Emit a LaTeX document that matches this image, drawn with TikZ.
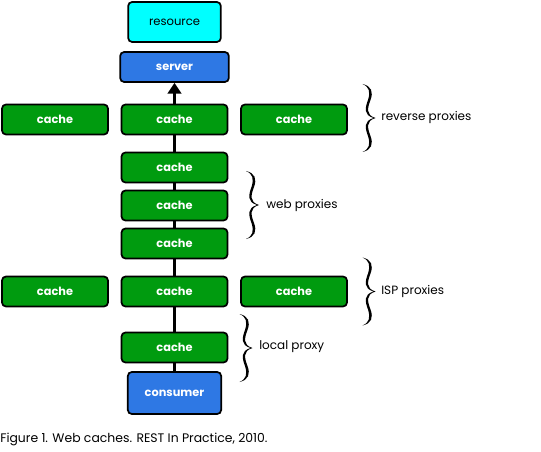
\documentclass[tikz,border=0pt]{standalone}
\usepackage{fontspec}
\setmainfont{Poppins}
\usetikzlibrary{arrows.meta}
\definecolor{cachegreen}{RGB}{0,155,15}
\definecolor{srvblue}{RGB}{46,120,228}
\definecolor{rescyan}{RGB}{0,255,255}
\tikzset{
  px/.style={x=0.75pt,y=-0.75pt},
  boxbase/.style={draw=black,line width=1.3pt,rounded corners=3pt,inner sep=0pt,font=\fontsize{8.5}{10}\selectfont\bfseries},
  cachebox/.style={boxbase,fill=cachegreen,text=white,minimum width=79.5pt,minimum height=22.5pt},
  blueblock/.style={boxbase,fill=srvblue,text=white},
  resbox/.style={boxbase,fill=rescyan,text=black,font=\fontsize{8.7}{10}\selectfont},
  lbl/.style={font=\fontsize{9}{10}\selectfont,anchor=west,inner sep=0pt},
  link/.style={line width=2.6pt},
  wbrace/.pic={
    \fill[black] (0,-34) .. controls (9,-32) and (11,-26) .. (8,-18)
      .. controls (5,-10) and (3,-3) .. (13,0)
      .. controls (3,3) and (5,10) .. (8,18)
      .. controls (11,26) and (9,32) .. (0,34)
      .. controls (7,31) and (8,26) .. (5.5,18)
      .. controls (2.5,10) and (1,3) .. (11,0)
      .. controls (1,-3) and (2.5,-10) .. (5.5,-18)
      .. controls (8,-26) and (7,-31) .. (0,-34) -- cycle;
  }
}
\begin{document}
\begin{tikzpicture}[px]
\useasboundingbox (0,0) rectangle (541,452);
% boxes
\node[resbox,minimum width=69.5pt,minimum height=30pt] (res) at (174.5,22) {resource};
\node[blueblock,minimum width=81.5pt,minimum height=22.5pt] (srv) at (174.5,67) {server};
\node[cachebox] (r1) at (55,119.5) {cache};
\node[cachebox] (r2) at (174.5,119.5) {cache};
\node[cachebox] (r3) at (294,119.5) {cache};
\node[cachebox] (w1) at (174.5,167.5) {cache};
\node[cachebox] (w2) at (174.5,205.5) {cache};
\node[cachebox] (w3) at (174.5,243.5) {cache};
\node[cachebox] (i1) at (55,291.5) {cache};
\node[cachebox] (i2) at (174.5,291.5) {cache};
\node[cachebox] (i3) at (294,291.5) {cache};
\node[cachebox] (l1) at (174.5,347.5) {cache};
\node[blueblock,minimum width=70pt,minimum height=31.5pt] (con) at (174.5,393) {consumer};
% connectors
\draw[link] (con) -- (l1);
\draw[link] (l1) -- (i2);
\draw[link] (i2) -- (w3);
\draw[link] (w3) -- (w2);
\draw[link] (w2) -- (w1);
\draw[link] (w1) -- (r2);
\draw[link,-{Triangle[length=8pt,width=10pt]}] (r2) -- (srv);
% braces
\pic at (362.5,118) {wbrace};
\pic at (246,205) {wbrace};
\pic at (362.5,291.5) {wbrace};
\pic at (239.5,348) {wbrace};
\node[lbl] (t1) at (381,117) {reverse proxies};
\node[lbl] (t2) at (266,205) {web proxies};
\node[lbl] (t3) at (381,291) {ISP proxies};
\node[lbl] (t4) at (259,347) {local proxy};
\node[lbl,font=\fontsize{9.3}{10}\selectfont] (cap) at (0,439) {Figure 1. Web caches. REST In Practice, 2010.};
\end{tikzpicture}
\end{document}
